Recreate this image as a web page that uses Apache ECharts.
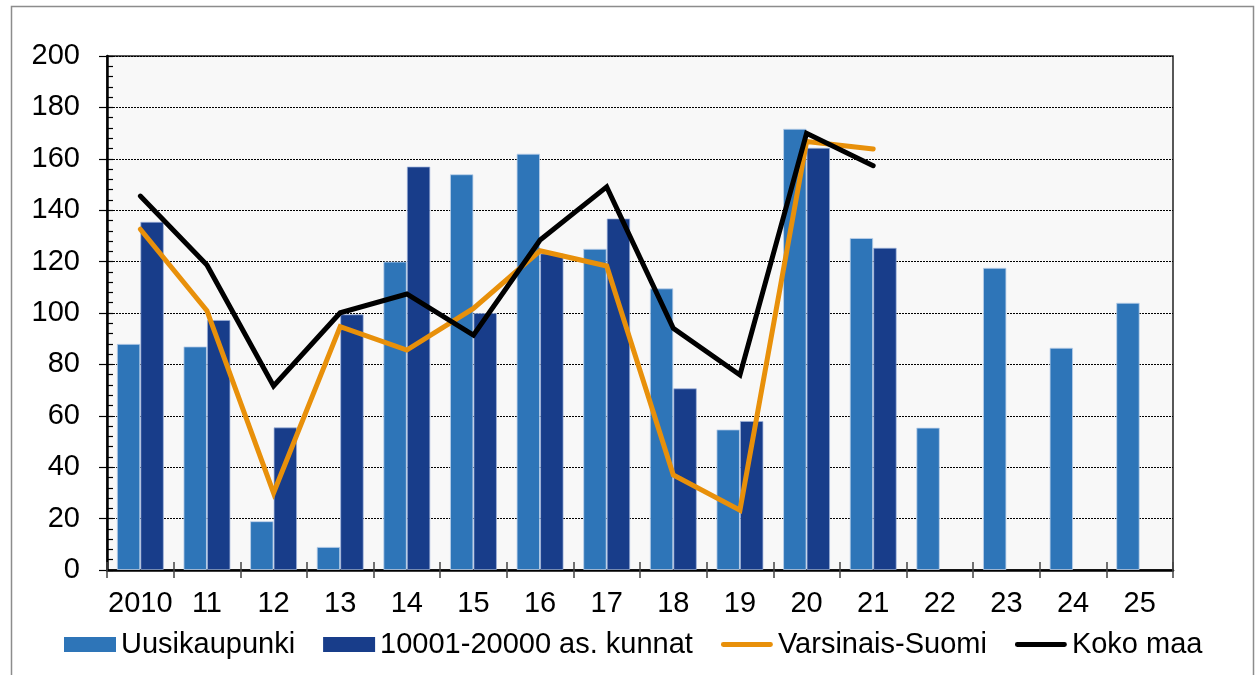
<!DOCTYPE html>
<html>
<head>
<meta charset="utf-8">
<script src="https://cdn.jsdelivr.net/npm/echarts@6/dist/echarts.min.js"></script>
<style>
html,body{margin:0;padding:0;background:#fff;}
#chart{width:1257px;height:675px;}
</style>
</head>
<body>
<div id="chart"></div>
<script>
var categories = ['2010','11','12','13','14','15','16','17','18','19','20','21','22','23','24','25'];
var uusikaupunki = [88, 87, 19, 9, 120, 154, 162, 125, 109.6, 54.7, 171.7, 129.2, 55.4, 117.6, 86.5, 104];
var kunnat = [135.5, 97.3, 55.5, 99.5, 157, 100, 123.2, 136.8, 70.7, 58, 164.3, 125.4, null, null, null, null];
var varsinaisSuomi = [132.6, 100.9, 30, 94.7, 85.6, 101.8, 124.2, 118.3, 37, 23.3, 166.7, 163.8, null, null, null, null];
var kokoMaa = [145.5, 118.7, 71.6, 100.1, 107.4, 91.4, 128.4, 149.1, 94, 75.9, 169.9, 157.3, null, null, null, null];
var seriesNames = ['Uusikaupunki', '10001-20000 as. kunnat', 'Varsinais-Suomi', 'Koko maa'];

var FONT = '"Liberation Sans", Arial, sans-serif';
var LINE_ICON = 'path://M2.5,0 H51.5 A2.5,2.5 0 0 1 51.5,5 H2.5 A2.5,2.5 0 0 1 2.5,0 Z';
var chart = echarts.init(document.getElementById('chart'), null, {renderer: 'canvas'});
var option = {
  backgroundColor: '#ffffff',
  animation: false,
  textStyle: {fontFamily: FONT},
  graphic: [{
    type: 'rect', left: 9, top: 4, silent: true,
    shape: {x: 0, y: 0, width: 1242, height: 700},
    style: {fill: 'none', stroke: '#8c8c8c', lineWidth: 1.5}
  }],
  grid: {
    left: 107, top: 56, right: 84, bottom: 105,
    show: true, backgroundColor: '#f8f8f8', borderColor: '#222', borderWidth: 1.5
  },
  legend: {
    left: 64, top: 630, padding: 0,
    itemWidth: 52, itemHeight: 15, itemGap: 28,
    symbolKeepAspect: true,
    itemStyle: {borderWidth: 0},
    textStyle: {fontSize: 29, color: '#000', fontFamily: FONT},
    data: [
      {name: seriesNames[0], icon: 'rect'},
      {name: seriesNames[1], icon: 'rect'},
      {name: seriesNames[2], icon: LINE_ICON},
      {name: seriesNames[3], icon: LINE_ICON}
    ]
  },
  xAxis: [{
    type: 'category', data: categories, position: 'bottom', offset: 0,
    boundaryGap: true,
    axisLine: {lineStyle: {color: '#000', width: 2.5}},
    axisTick: {show: true, alignWithLabel: false, interval: 0, length: 8, lineStyle: {color: '#444', width: 1.5}},
    axisLabel: {fontSize: 29, color: '#000', margin: 19, interval: 0, hideOverlap: false, fontFamily: FONT},
    splitLine: {show: false}
  }, {
    type: 'category', data: categories, position: 'bottom', offset: 0,
    boundaryGap: true,
    axisLine: {show: false},
    axisTick: {show: true, inside: true, interval: 0, length: 8, lineStyle: {color: '#444', width: 1.5}},
    axisLabel: {show: false},
    splitLine: {show: false}
  }],
  yAxis: [{
    type: 'value', min: 0, max: 200, interval: 20, position: 'left', offset: 0,
    axisLine: {show: true, lineStyle: {color: '#000', width: 2.5}},
    axisTick: {show: true, inside: true, length: 6, lineStyle: {color: '#000', width: 1.2}},
    minorTick: {show: true, splitNumber: 5, length: 6, lineStyle: {color: '#000', width: 1.2}},
    axisLabel: {fontSize: 29, color: '#000', margin: 27, fontFamily: FONT},
    splitLine: {show: true, lineStyle: {color: '#000', width: 1, type: [2, 1]}}
  }, {
    type: 'value', min: 0, max: 200, interval: 20, position: 'left', offset: 0,
    axisLine: {show: false},
    axisTick: {show: true, inside: false, length: 8, lineStyle: {color: '#000', width: 1.2}},
    axisLabel: {show: false},
    splitLine: {show: false}
  }],
  series: [{
    name: seriesNames[0], type: 'bar', data: uusikaupunki,
    barWidth: 23.5, barGap: '0%',
    itemStyle: {color: '#2e75b8', borderColor: 'rgba(190,210,235,0.8)', borderWidth: 1}
  }, {
    name: seriesNames[1], type: 'bar', data: kunnat,
    barWidth: 23.5, barGap: '0%',
    itemStyle: {color: '#183d8a', borderColor: 'rgba(160,180,220,0.7)', borderWidth: 1}
  }, {
    name: seriesNames[2], type: 'line', data: varsinaisSuomi,
    symbol: 'none', showSymbol: false,
    lineStyle: {color: '#e8900a', width: 5, cap: 'round', join: 'miter'},
    itemStyle: {color: '#e8900a'}
  }, {
    name: seriesNames[3], type: 'line', data: kokoMaa,
    symbol: 'none', showSymbol: false,
    lineStyle: {color: '#000', width: 5, cap: 'round', join: 'miter'},
    itemStyle: {color: '#000'}
  }]
};
chart.setOption(option);
</script>
</body>
</html>
